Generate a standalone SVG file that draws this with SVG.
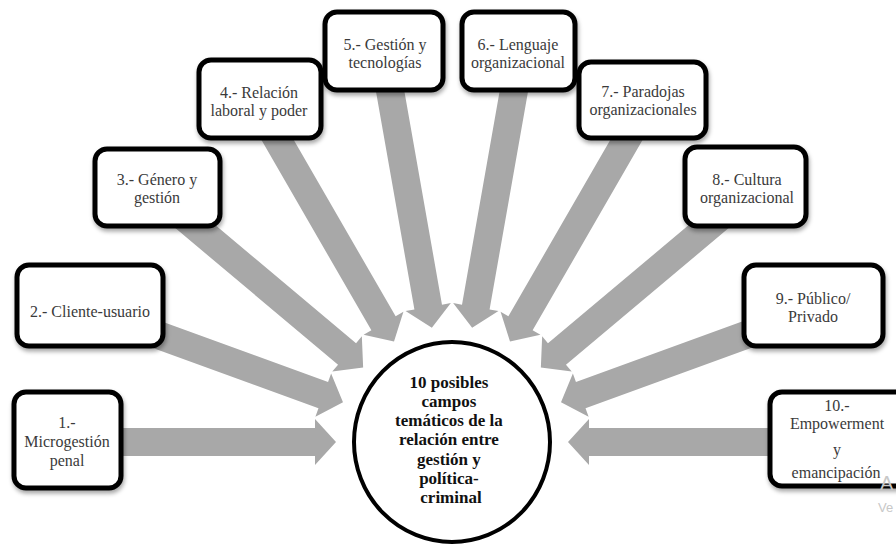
<svg xmlns="http://www.w3.org/2000/svg" xmlns:xlink="http://www.w3.org/1999/xlink" width="896" height="544" viewBox="0 0 896 544">
  <style>
    .box { fill: #ffffff; stroke: #000000; stroke-width: 5; filter: url(#shadow); }
    .lbl { font-family: "Liberation Serif", "DejaVu Serif", serif; font-size: 16px; fill: #3a3a3a; text-anchor: middle; }
    .hub { fill: #ffffff; stroke: #000000; stroke-width: 4; }
    .hubtxt { font-family: "Liberation Serif", "DejaVu Serif", serif; font-size: 17px; font-weight: bold; fill: #111111; text-anchor: middle; }
    .arrow { fill: #a8a8a8; }
    .wm { font-family: "Liberation Sans", Arial, sans-serif; fill: #c8c8c8; }
  </style>
  <defs>
    <filter id="shadow" x="-20%" y="-20%" width="140%" height="150%">
      <feDropShadow dx="1" dy="3" stdDeviation="2" flood-color="#000000" flood-opacity="0.35"/>
    </filter>
    <!-- block arrow pointing at the origin from the left; rotated about the hub centre -->
    <path id="ray" d="M -360 -14 L -137 -14 L -137 -23 L -116 0 L -137 23 L -137 14 L -360 14 Z"/>
  </defs>

  <rect width="896" height="544" fill="#ffffff"/>

  <!-- connectors -->
  <g id="connectors" class="arrow" transform="translate(452,442)">
    <use xlink:href="#ray" href="#ray"/>
    <use xlink:href="#ray" href="#ray" transform="rotate(20)"/>
    <use xlink:href="#ray" href="#ray" transform="rotate(40)"/>
    <use xlink:href="#ray" href="#ray" transform="rotate(60)"/>
    <use xlink:href="#ray" href="#ray" transform="rotate(80)"/>
    <use xlink:href="#ray" href="#ray" transform="rotate(100)"/>
    <use xlink:href="#ray" href="#ray" transform="rotate(120)"/>
    <use xlink:href="#ray" href="#ray" transform="rotate(140)"/>
    <use xlink:href="#ray" href="#ray" transform="rotate(160)"/>
    <use xlink:href="#ray" href="#ray" transform="rotate(180)"/>
  </g>

  <!-- central hub -->
  <g id="hub">
    <ellipse class="hub" cx="452" cy="442" rx="98" ry="100"/>
    <text class="hubtxt" x="451">
      <tspan x="451" y="388">10 posibles</tspan>
      <tspan x="451" y="407">campos</tspan>
      <tspan x="451" y="426">temáticos de la</tspan>
      <tspan x="451" y="445">relación entre</tspan>
      <tspan x="451" y="465">gestión y</tspan>
      <tspan x="451" y="484">política-</tspan>
      <tspan x="451" y="503">criminal</tspan>
    </text>
  </g>

  <g id="n1">
    <rect class="box" x="14" y="392" width="107" height="96" rx="12"/>
    <text class="lbl"><tspan x="67" y="428">1.-</tspan><tspan x="67" y="447">Microgestión</tspan><tspan x="67" y="466">penal</tspan></text>
  </g>

  <g id="n2">
    <rect class="box" x="17" y="265" width="146" height="81" rx="12"/>
    <text class="lbl" x="90" y="317">2.- Cliente-usuario</text>
  </g>

  <g id="n3">
    <rect class="box" x="95" y="149" width="125" height="77" rx="12"/>
    <text class="lbl"><tspan x="157" y="185">3.- Género y</tspan><tspan x="157" y="203">gestión</tspan></text>
  </g>

  <g id="n4">
    <rect class="box" x="199" y="60" width="122" height="78" rx="12"/>
    <text class="lbl"><tspan x="259" y="98">4.- Relación</tspan><tspan x="259" y="116">laboral y poder</tspan></text>
  </g>

  <g id="n5">
    <rect class="box" x="325" y="12" width="118" height="78" rx="12"/>
    <text class="lbl"><tspan x="385" y="50">5.- Gestión y</tspan><tspan x="385" y="68">tecnologías</tspan></text>
  </g>

  <g id="n6">
    <rect class="box" x="462" y="12" width="113" height="78" rx="12"/>
    <text class="lbl"><tspan x="518" y="50">6.- Lenguaje</tspan><tspan x="518" y="68">organizacional</tspan></text>
  </g>

  <g id="n7">
    <rect class="box" x="579" y="62" width="127" height="76" rx="12"/>
    <text class="lbl"><tspan x="643" y="97">7.- Paradojas</tspan><tspan x="643" y="115">organizacionales</tspan></text>
  </g>

  <g id="n8">
    <rect class="box" x="685" y="147" width="121" height="79" rx="12"/>
    <text class="lbl"><tspan x="747" y="185">8.- Cultura</tspan><tspan x="747" y="203">organizacional</tspan></text>
  </g>

  <g id="n9">
    <rect class="box" x="744" y="265" width="139" height="81" rx="12"/>
    <text class="lbl"><tspan x="813" y="304">9.- Público/</tspan><tspan x="813" y="322">Privado</tspan></text>
  </g>

  <g id="n10">
    <rect class="box" x="770" y="392" width="140" height="94" rx="12"/>
    <text class="lbl"><tspan x="837" y="411">10.-</tspan><tspan x="837" y="429">Empowerment</tspan><tspan x="837" y="455">y</tspan><tspan x="836" y="478">emancipación</tspan></text>
  </g>

  <!-- faint system overlay text at the lower right corner -->
  <text class="wm" x="880" y="490" font-size="20">A</text>
  <text class="wm" x="878" y="512" font-size="13">Ve</text>
</svg>
